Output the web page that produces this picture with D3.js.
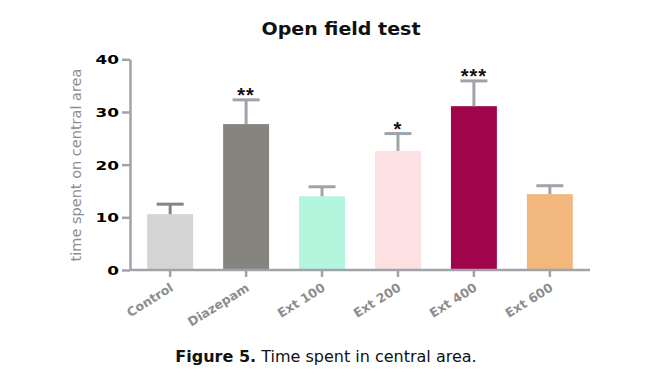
<!DOCTYPE html>
<html>
<head>
<meta charset="utf-8">
<script src="https://cdn.jsdelivr.net/npm/d3@7"></script>
<style>
  body { margin: 0; background: #fff; }
  svg { display: block; }
</style>
</head>
<body>
<div class="container"></div>
<script>
(function(){

    // values
    var groups = ["Control", "Diazepam", "Ext 100", "Ext 200", "Ext 400", "Ext 600"];
    var means = [10.6, 27.7, 14.0, 22.6, 31.1, 14.4];
    var sems = [1.9, 4.6, 1.8, 3.3, 4.8, 1.6];
    var stars = ["", "**", "", "*", "***", ""];
    var yTicks = [0, 10, 20, 30, 40];
    var barColors = ["#d4d4d4", "#86847f", "#b4f5dd", "#fde0e1", "#a0044b", "#f1b77c"];
    var errColors = ["#84848a", "#a0a3a9", "#a0a3a9", "#a0a3a9", "#a0a3a9", "#a0a3a9"];

    var axisColor = "#a0a3a9";

    var svg = d3.select(".container").append("svg")
        .attr("width", 647)
        .attr("height", 380);

    var x = d3.scaleBand()
        .domain(groups)
        .range([132, 588])
        .paddingInner(0.395)
        .paddingOuter(0.2);

    var y = d3.scaleLinear()
        .domain([0, 40])
        .range([270, 59.3]);

    var rows = groups.map(function(g, i) {
        return {name: g, mean: means[i], sem: sems[i], star: stars[i], fill: barColors[i], err: errColors[i]};
    });

    // title
    svg.append("text")
        .attr("transform", "translate(341,35) scale(1.12,1)")
        .attr("text-anchor", "middle")
        .style("font-family", "'DejaVu Sans', sans-serif")
        .style("font-weight", "bold")
        .style("font-size", "17px")
        .style("fill", "#111")
        .text("Open field test");

    // bars
    svg.selectAll("rect.bar")
        .data(rows)
        .enter().append("rect")
        .attr("class", "bar")
        .attr("x", function(d) { return x(d.name); })
        .attr("width", x.bandwidth())
        .attr("y", function(d) { return y(d.mean); })
        .attr("height", function(d) { return y(0) - y(d.mean); })
        .style("fill", function(d) { return d.fill; });

    // error bars (upper only)
    var err = svg.selectAll("g.err")
        .data(rows)
        .enter().append("g")
        .attr("class", "err")
        .style("stroke", function(d) { return d.err; })
        .style("stroke-width", 3);

    err.append("line")
        .attr("x1", function(d) { return x(d.name) + x.bandwidth() / 2; })
        .attr("x2", function(d) { return x(d.name) + x.bandwidth() / 2; })
        .attr("y1", function(d) { return y(d.mean); })
        .attr("y2", function(d) { return y(d.mean + d.sem); });

    err.append("line")
        .attr("x1", function(d) { return x(d.name) + x.bandwidth() / 2 - 13.5; })
        .attr("x2", function(d) { return x(d.name) + x.bandwidth() / 2 + 13.5; })
        .attr("y1", function(d) { return y(d.mean + d.sem); })
        .attr("y2", function(d) { return y(d.mean + d.sem); });

    // significance stars
    svg.selectAll("text.star")
        .data(rows.filter(function(d) { return d.star; }))
        .enter().append("text")
        .attr("class", "star")
        .attr("x", function(d) { return x(d.name) + x.bandwidth() / 2; })
        .attr("y", function(d) { return y(d.mean + d.sem) + 2; })
        .attr("text-anchor", "middle")
        .style("font-family", "'Liberation Sans', Arial, sans-serif")
        .style("font-weight", "bold")
        .style("font-size", "20px")
        .style("letter-spacing", "1px")
        .style("fill", "#111")
        .text(function(d) { return d.star; });

    // y axis
    var yAxis = svg.append("g")
        .attr("transform", "translate(130,0)")
        .call(d3.axisLeft(y).tickValues(yTicks).tickSize(8).tickSizeOuter(0).tickPadding(4));

    yAxis.select(".domain").style("stroke", axisColor).style("stroke-width", 2.5);
    yAxis.selectAll(".tick line").style("stroke", axisColor).style("stroke-width", 2.5);
    yAxis.selectAll(".tick text")
        .attr("dy", "0.36em")
        .attr("transform", "scale(1.35,1)")
        .attr("x", -11 / 1.35)
        .style("font-family", "'DejaVu Sans', sans-serif")
        .style("font-weight", "bold")
        .style("font-size", "12.5px")
        .style("fill", "#000");

    // x axis
    var xAxis = svg.append("g")
        .attr("transform", "translate(0,270)")
        .call(d3.axisBottom(x).tickSize(7).tickSizeOuter(0).tickPadding(6));

    xAxis.select(".domain").attr("d", "M130,0H590").style("stroke", axisColor).style("stroke-width", 2.5);
    xAxis.selectAll(".tick line").style("stroke", axisColor).style("stroke-width", 2.5);
    xAxis.selectAll(".tick text")
        .attr("text-anchor", "end")
        .attr("dy", 0)
        .attr("y", 0)
        .attr("transform", "translate(4,20) rotate(-32)")
        .style("font-family", "'DejaVu Sans', sans-serif")
        .style("font-weight", "bold")
        .style("font-size", "12.5px")
        .style("fill", "#8d8d8d");

    // y label
    svg.append("text")
        .attr("transform", "translate(81,165) rotate(-90)")
        .attr("text-anchor", "middle")
        .style("font-family", "'DejaVu Sans', sans-serif")
        .style("font-size", "14.5px")
        .style("fill", "#8e8e8e")
        .text("time spent on central area");

    // caption
    var cap = svg.append("text")
        .attr("x", 326)
        .attr("y", 362)
        .attr("text-anchor", "middle")
        .style("font-family", "'DejaVu Sans', sans-serif")
        .style("font-size", "16px")
        .style("fill", "#111");
    cap.append("tspan").style("font-weight", "bold").text("Figure 5.");
    cap.append("tspan").text(" Time spent in central area.");

})();
</script>
</body>
</html>
